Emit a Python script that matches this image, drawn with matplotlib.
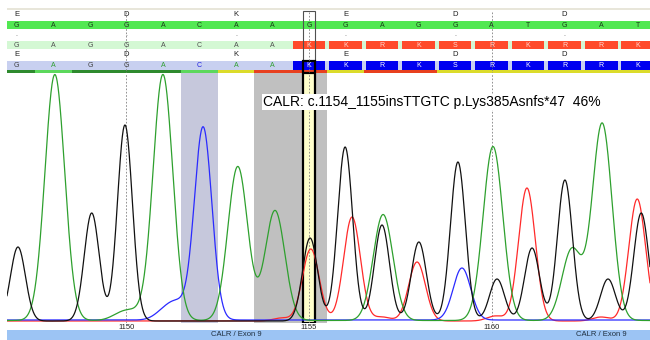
import numpy as np
import matplotlib
matplotlib.use('Agg')
import matplotlib.pyplot as plt
from matplotlib.patches import Rectangle

plt.rcParams['font.family'] = ['Liberation Sans', 'DejaVu Sans']

# sequence tracks
positions = np.arange(1147, 1165)
ref_bases = list("GAGGACAAGGAGGATGAT")
sample_bases = list("GAGGACAA") + list("KKRKSRKRRK")
aa_labels = ["E", "D", "K", "E", "D", "D"]
aa_pos = positions[::3]
quality = ["hi", "mid", "hi", "hi", "hi", "mid", "low", "bad", "bad",
           "low", "bad", "bad", "low", "low", "low", "low", "low", "low"]
tick_pos = [1150, 1155, 1160]
mut_pos = 1155
shade_c = (1151.5, 1152.5)
shade_ins = (1153.5, 1155.5)
exon_label_pos = [1153, 1163]
exon_label = "CALR / Exon 9"
annotation = "CALR: c.1154_1155insTTGTC p.Lys385Asnfs*47  46%"

# chromatogram peaks: (position, height)
g_peaks = [(1147.03, 74), (1149.05, 108), (1149.96, 196), (1155.03, 83),
           (1155.99, 174), (1157.0, 96), (1158.01, 79), (1159.08, 159),
           (1160.15, 42), (1161.11, 73), (1162.01, 141), (1163.19, 42),
           (1164.1, 108)]
a_peaks = [(1148.04, 246), (1149.85, 6), (1150.2, 7), (1151.0, 246),
           (1153.05, 154), (1154.07, 110), (1157.03, 106), (1160.04, 174),
           (1162.2, 71), (1163.03, 197)]
t_peaks = [(1154.25, 3), (1155.05, 72), (1156.18, 104), (1157.0, 4),
           (1157.96, 59), (1160.1, 5), (1160.97, 133), (1163.0, 4),
           (1163.99, 122)]
c_peaks = [(1150.95, 5), (1151.2, 8), (1151.45, 12), (1152.1, 193),
           (1159.19, 52)]

qual_colors = {"hi": "#2e8a2e", "mid": "#5cd85c", "low": "#dcdc2a", "bad": "#e8401e"}
base_colors = {"G": "#404040", "A": "#2fa02f", "C": "#2020e0", "T": "#e02020"}

xmin, xmax = 1146.73, 1164.34
x = np.linspace(xmin, xmax, 3000)


def trace(peaks, sigma):
    y = np.zeros_like(x)
    for c, h in peaks:
        y += h * np.exp(-(x - c) ** 2 / (2 * sigma ** 2))
    return y


fig = plt.figure(figsize=(6.5, 3.4), dpi=100)
L, W = 7 / 650, 643 / 650
ax_top = fig.add_axes([L, 1 - 73 / 340, W, 65 / 340])
ax = fig.add_axes([L, 1 - 323 / 340, W, 250 / 340])
ax_bot = fig.add_axes([L, 0, W, 10 / 340])

# ---- top tracks
ax_top.set_xlim(xmin, xmax)
ax_top.set_ylim(73, 8)
ax_top.axis('off')
ax_top.axhspan(8, 10, color='#e8e6da', lw=0)
ax_top.axhspan(21, 29, color='#52e852', lw=0)
ax_top.axhspan(41, 49, color='#d4f8d4', lw=0)
ax_top.axhspan(61, 70, color='#c8d0f0', lw=0)

for p, lab in zip(aa_pos, aa_labels):
    ax_top.text(p, 15, lab, ha='center', va='center', fontsize=5.5, color='#202020')
    ax_top.text(p, 34, '.', ha='center', va='center', fontsize=5, color='#606060')
    ax_top.text(p, 55, lab, ha='center', va='center', fontsize=5.5, color='#202020')

for i, p in enumerate(positions):
    ax_top.text(p, 25.3, ref_bases[i], ha='center', va='center', fontsize=5, color='#1a3a1a')
    b = sample_bases[i]
    if b in "ACGT":
        ax_top.text(p, 45.3, b, ha='center', va='center', fontsize=5, color='#505050')
        ax_top.text(p, 65.3, b, ha='center', va='center', fontsize=5, color=base_colors[b])
    else:
        ax_top.add_patch(Rectangle((p - 0.45, 41), 0.9, 8, color='#ff4a2a', lw=0))
        ax_top.add_patch(Rectangle((p - 0.45, 61), 0.9, 9, color='#0000f0', lw=0))
        ax_top.text(p, 45.3, b, ha='center', va='center', fontsize=5, color='#ffd8d0')
        ax_top.text(p, 65.3, b, ha='center', va='center', fontsize=5, color='white')
    ax_top.add_patch(Rectangle((p - 0.5, 70), 1.0, 3, color=qual_colors[quality[i]], lw=0))

for t in tick_pos:
    ax_top.plot([t, t], [12, 73], ls=(0, (2, 2)), color='#808080', lw=0.6)
ax_top.add_patch(Rectangle((mut_pos - 0.17, 11), 0.34, 50, fill=False, ec='#505050', lw=0.8))
ax_top.add_patch(Rectangle((mut_pos - 0.17, 61), 0.34, 12, fill=False, ec='black', lw=1.6))

# ---- chromatogram
ax.set_xlim(xmin, xmax)
ax.set_ylim(-2, 248)
for s in ax.spines.values():
    s.set_visible(False)
ax.set_yticks([])
ax.set_xticks(tick_pos)
ax.set_xticklabels([str(t) for t in tick_pos], fontsize=5.5, color='#202020')
ax.tick_params(axis='x', length=0, pad=0.5)

ax.axvspan(*shade_c, color='#c6c8dc', lw=0, zorder=0)
ax.axvspan(*shade_ins, color='#c0c0c0', lw=0, zorder=0)
ax.axvspan(mut_pos - 0.17, mut_pos + 0.17, facecolor='#ffffcc', edgecolor='black', lw=1.6, zorder=1)
for t in tick_pos:
    ax.axvline(t, ls=(0, (2, 2)), color='#808080', lw=0.6, zorder=2)

ax.plot(x, trace(t_peaks, 0.23), color='#ff2a2a', lw=0.9, zorder=3)
ax.plot(x, trace(c_peaks, 0.24) + 1, color='#2a2aff', lw=0.9, zorder=3)
ax.plot(x, trace(a_peaks, 0.27) + 0.5, color='#2ea02e', lw=0.9, zorder=3)
ax.plot(x, trace(g_peaks, 0.205), color='#111111', lw=0.9, zorder=4)

ax.text(1153.74, 219, annotation, fontsize=10, ha='left', va='center', zorder=6,
        bbox=dict(facecolor='white', edgecolor='none', pad=1))

# ---- exon bar
ax_bot.set_xlim(xmin, xmax)
ax_bot.set_ylim(0, 1)
ax_bot.axis('off')
ax_bot.axhspan(0, 1, color='#9cc4f4', lw=0)
for p in exon_label_pos:
    ax_bot.text(p, 0.5, exon_label, fontsize=5.5, ha='center', va='center', color='#203040')

fig.savefig('out.png', dpi=100)
